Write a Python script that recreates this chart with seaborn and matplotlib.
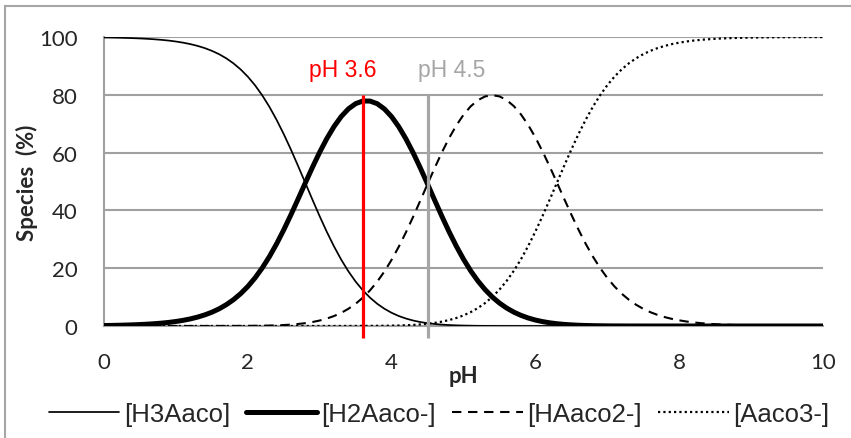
import numpy as np
import pandas as pd
import matplotlib
matplotlib.use("Agg")
import matplotlib.pyplot as plt
from matplotlib.patches import Rectangle
from matplotlib.ticker import MultipleLocator
from matplotlib.font_manager import FontProperties
import seaborn as sns

# Speciation of aconitic acid versus pH (percent of each species), pH 0-10 in 0.1 steps
ph = np.round(np.arange(0, 10.001, 0.1), 1)

h3aaco = [99.84, 99.80, 99.75, 99.68, 99.60, 99.50, 99.37, 99.21, 99.01, 98.76,
          98.44, 98.04, 97.55, 96.93, 96.17, 95.22, 94.06, 92.63, 90.89, 88.79,
          86.28, 83.31, 79.84, 75.86, 71.36, 66.40, 61.03, 55.34, 49.51, 43.66,
          37.95, 32.52, 27.49, 22.92, 18.88, 15.35, 12.34, 9.80, 7.69, 5.97,
          4.57, 3.45, 2.58, 1.89, 1.37, 0.98, 0.69, 0.48, 0.33, 0.22,
          0.15, 0.10, 0.06, 0.04, 0.03, 0.02, 0.01, 0.01,
          0, 0, 0, 0, 0, 0, 0, 0, 0, 0, 0, 0, 0, 0, 0, 0, 0, 0, 0, 0, 0, 0,
          0, 0, 0, 0, 0, 0, 0, 0, 0, 0, 0, 0, 0, 0, 0, 0, 0, 0, 0, 0, 0]

h2aaco = [0.16, 0.20, 0.25, 0.32, 0.40, 0.50, 0.63, 0.79, 0.99, 1.24,
          1.56, 1.96, 2.45, 3.07, 3.83, 4.77, 5.93, 7.36, 9.09, 11.18,
          13.67, 16.62, 20.06, 23.99, 28.41, 33.27, 38.50, 43.96, 49.51, 54.96,
          60.15, 64.89, 69.05, 72.50, 75.15, 76.94, 77.85, 77.83, 76.92, 75.10,
          72.42, 68.93, 64.72, 59.92, 54.66, 49.12, 43.48, 37.92, 32.59, 27.63,
          23.11, 19.09, 15.59, 12.59, 10.05, 7.94, 6.21, 4.80, 3.67, 2.77,
          2.06, 1.52, 1.10, 0.79, 0.55, 0.39, 0.26, 0.18, 0.12, 0.08,
          0.05, 0.03, 0.02, 0.01, 0.01,
          0, 0, 0, 0, 0, 0, 0, 0, 0, 0, 0, 0, 0, 0, 0, 0, 0, 0, 0, 0, 0, 0,
          0, 0, 0, 0]

haaco2 = [0, 0, 0, 0, 0, 0, 0, 0, 0, 0, 0, 0, 0, 0, 0, 0,
          0.01, 0.01, 0.02, 0.03,
          0.04, 0.07, 0.10, 0.15, 0.23, 0.33, 0.48, 0.70, 0.99, 1.38,
          1.90, 2.58, 3.46, 4.57, 5.97, 7.69, 9.80, 12.34, 15.35, 18.86,
          22.90, 27.44, 32.44, 37.81, 43.42, 49.12, 54.74, 60.10, 65.03, 69.39,
          73.08, 76.01, 78.14, 79.43, 79.87, 79.45, 78.18, 76.08, 73.19, 69.54,
          65.24, 60.38, 55.12, 49.61, 44.02, 38.54, 33.30, 28.42, 24.00, 20.06,
          16.63, 13.68, 11.18, 9.09, 7.36, 5.94, 4.77, 3.83, 3.07, 2.45,
          1.96, 1.56, 1.24, 0.99, 0.79, 0.63, 0.50, 0.40, 0.32, 0.25,
          0.20, 0.16, 0.13, 0.10, 0.08, 0.06, 0.05, 0.04, 0.03, 0.03,
          0.02]

aaco3 = [0, 0, 0, 0, 0, 0, 0, 0, 0, 0, 0, 0, 0, 0, 0, 0, 0,
         0, 0, 0, 0, 0, 0, 0, 0, 0, 0, 0, 0, 0, 0, 0, 0, 0,
         0.01, 0.01, 0.02, 0.03, 0.05, 0.08,
         0.11, 0.17, 0.26, 0.38, 0.55, 0.78, 1.09, 1.51, 2.06, 2.76,
         3.66, 4.80, 6.21, 7.94, 10.05, 12.59, 15.60, 19.11, 23.14, 27.69,
         32.70, 38.10, 43.78, 49.61, 55.42, 61.08, 66.44, 71.40, 75.88, 79.86,
         83.32, 86.29, 88.80, 90.90, 92.63, 94.06, 95.22, 96.17, 96.93, 97.55,
         98.04, 98.44, 98.76, 99.01, 99.21, 99.37, 99.50, 99.60, 99.68, 99.75,
         99.80, 99.84, 99.87, 99.90, 99.92, 99.94, 99.95, 99.96, 99.97, 99.97,
         99.98]

series_names = ["[H3Aaco]", "[H2Aaco-]", "[HAaco2-]", "[Aaco3-]"]
marker_ph = [3.6, 4.5]
marker_labels = ["pH 3.6", "pH 4.5"]
marker_colors = ["#ff0000", "#a6a6a6"]

df = pd.DataFrame({"pH": ph, series_names[0]: h3aaco, series_names[1]: h2aaco,
                   series_names[2]: haaco2, series_names[3]: aaco3})

sns.set_theme(style="white")
calibri_like = ["Lato", "DejaVu Sans"]
plt.rcParams["font.family"] = calibri_like

fig = plt.figure(figsize=(8.51, 4.39), dpi=100)
W, H = 851, 439
ax = fig.add_axes([104 / W, (H - 327) / H, (823 - 104) / W, (327 - 38) / H])

styles = [
    dict(color="black", linewidth=1.25, linestyle="-"),
    dict(color="black", linewidth=3.6, linestyle="-"),
    dict(color="black", linewidth=1.5, linestyle=(0, (4.5, 3.2))),
    dict(color="black", linewidth=1.6, linestyle=(0, (1, 1.4))),
]
for name, st in zip(series_names, styles):
    sns.lineplot(data=df, x="pH", y=name, ax=ax, label=name, zorder=3, **st)

for x, c in zip(marker_ph, marker_colors):
    ax.plot([x, x], [-4, 80], color=c, linewidth=2.3, zorder=4, clip_on=False,
            solid_capstyle="butt")

marker_prop = FontProperties(family="Liberation Sans", size=16.5)
ax.text(3.32, 88.6, marker_labels[0], color=marker_colors[0], ha="center",
        va="center", fontproperties=marker_prop)
ax.text(4.84, 88.6, marker_labels[1], color=marker_colors[1], ha="center",
        va="center", fontproperties=marker_prop)

ax.set_xlim(0, 10)
ax.set_ylim(0, 100)
ax.set_xticks(np.arange(0, 11, 2))
ax.set_yticks(np.arange(0, 101, 20))
ax.xaxis.set_minor_locator(MultipleLocator(0.4))
ax.tick_params(axis="x", which="major", length=0, pad=19, labelsize=16)
ax.tick_params(axis="x", which="minor", length=4, width=1, color="#a0a0a0",
               direction="out")
ax.tick_params(axis="y", which="major", length=0, pad=19, labelsize=16)
ax.grid(axis="y", color="#a0a0a0", linewidth=1.5, zorder=0)
ax.set_axisbelow(True)
for s in ["top", "right"]:
    ax.spines[s].set_visible(False)
for s in ["left", "bottom"]:
    ax.spines[s].set_color("#a0a0a0")
    ax.spines[s].set_linewidth(1.5)

ax.set_xlabel("pH", fontsize=16, fontweight="bold")
ax.xaxis.set_label_coords(0.5, -0.135)
ax.set_ylabel("Species  (%)", fontsize=16, fontweight="bold")
ax.yaxis.set_label_coords(-0.092, 0.5)

handles, labels = ax.get_legend_handles_labels()
ax.get_legend().remove()
legend_prop = FontProperties(family="Liberation Sans", size=18.5)
fig.legend(handles, labels, loc="center", bbox_to_anchor=(439 / W, 1 - 415 / H),
           ncol=4, frameon=False, handlelength=2.75, handletextpad=0.18,
           columnspacing=0.62, prop=legend_prop)

# chart border
fig.add_artist(Rectangle((5 / W, -0.1), 1.2, 1.1 - 7 / H, transform=fig.transFigure,
                         fill=False, edgecolor="#a6a6a6", linewidth=1.5))

fig.savefig("out.png", dpi=100)
